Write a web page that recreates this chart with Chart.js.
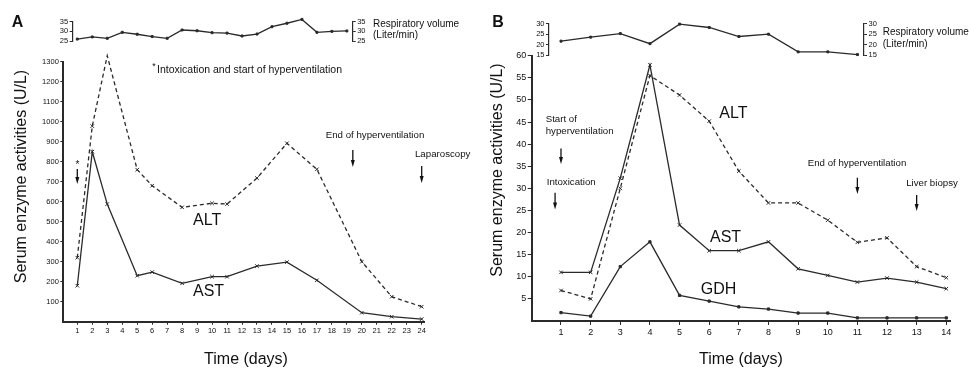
<!DOCTYPE html>
<html>
<head>
<meta charset="utf-8">
<script src="https://cdn.jsdelivr.net/npm/chart.js@4.4.0/dist/chart.umd.min.js"></script>
<style>
body { margin: 0; background: #fff; }
#wrap { position: relative; width: 970px; height: 369px; overflow: hidden; }
.box { position: absolute; top: 0; }
</style>
</head>
<body>
<div id="wrap">
  <div class="box" style="left:0;width:480px;height:62px"><canvas id="respA"></canvas></div>
  <div class="box" style="left:0;width:480px;height:369px"><canvas id="mainA"></canvas></div>
  <div class="box" style="left:480px;width:490px;height:66px"><canvas id="respB"></canvas></div>
  <div class="box" style="left:480px;width:490px;height:369px"><canvas id="mainB"></canvas></div>
</div>
<script>
// panel A
var daysA = [1, 2, 3, 5, 6, 8, 10, 11, 13, 15, 17, 20, 22, 24];
var altA = [320, 978, 1330, 760, 680, 572, 592, 588, 718, 892, 762, 300, 125, 75];
var astA = [180, 850, 588, 230, 248, 192, 225, 225, 278, 298, 207, 45, 25, 13];
var respDaysA = [1, 2, 3, 4, 5, 6, 7, 8, 9, 10, 11, 12, 13, 14, 15, 16, 17, 18, 19];
var respA = [26.0, 27.1, 26.4, 29.5, 28.5, 27.3, 26.4, 30.7, 30.3, 29.3, 29.1, 27.6, 28.6, 32.4, 34.2, 36.2, 29.5, 30.0, 30.2];
var xTicksA = [1, 2, 3, 4, 5, 6, 7, 8, 9, 10, 11, 12, 13, 14, 15, 16, 17, 18, 19, 20, 21, 22, 23, 24];
var yTicksA = [100, 200, 300, 400, 500, 600, 700, 800, 900, 1000, 1100, 1200, 1300];
var respTicksA = [25, 30, 35];

// panel B
var daysB = [1, 2, 3, 4, 5, 6, 7, 8, 9, 10, 11, 12, 13, 14];
var altB = [6.9, 5.0, 30.0, 55.5, 51.1, 45.2, 33.9, 26.7, 26.7, 22.8, 17.8, 18.8, 12.3, 9.8];
var astB = [11.0, 11.0, 32.3, 57.9, 21.7, 15.9, 15.9, 17.9, 11.8, 10.3, 8.8, 9.7, 8.8, 7.3];
var gdhB = [1.9, 1.1, 12.3, 17.9, 5.8, 4.5, 3.2, 2.7, 1.8, 1.8, 0.7, 0.7, 0.7, 0.7];
var respDaysB = [1, 2, 3, 4, 5, 6, 7, 8, 9, 10, 11];
var respB = [21.6, 23.5, 25.2, 20.4, 29.7, 28.1, 23.8, 24.9, 16.5, 16.5, 15.2];
var xTicksB = [1, 2, 3, 4, 5, 6, 7, 8, 9, 10, 11, 12, 13, 14];
var yTicksB = [5, 10, 15, 20, 25, 30, 35, 40, 45, 50, 55, 60];
var respTicksB = [15, 20, 25, 30];

var FONT = '"Liberation Sans", Arial, sans-serif';
var INK = '#2a2a2a';

function pts(xs, ys) {
    return xs.map(function (x, i) { return { x: x, y: ys[i] }; });
}

function lineSet(xs, ys, dashed, style, r) {
    return {
        data: pts(xs, ys),
        borderColor: INK,
        borderWidth: 1.3,
        borderDash: dashed ? [4, 3] : [],
        pointStyle: style || 'crossRot',
        pointRadius: r || 2.5,
        pointBorderWidth: 1,
        pointBackgroundColor: INK,
        pointBorderColor: INK,
        tension: 0,
        clip: false
    };
}

function axis(o) {
    return {
        type: 'linear',
        position: o.position,
        min: o.min,
        max: o.max,
        afterBuildTicks: function (s) {
            s.ticks = o.ticks.map(function (v) { return { value: v }; });
        },
        afterFit: function (s) {
            if (o.w) s.width = o.w;
            if (o.h) s.height = o.h;
        },
        grid: { drawOnChartArea: false, drawTicks: true, tickLength: o.tl || 3, color: INK, lineWidth: 1 },
        border: { display: true, color: INK, width: o.bw || 2 },
        ticks: {
            font: { family: FONT, size: o.fs },
            color: '#111',
            padding: o.pad || 2,
            maxRotation: 0,
            autoSkip: false,
            callback: function (v) { return String(v); }
        }
    };
}

function notesPlugin(notes) {
    return {
        id: 'notes',
        afterDraw: function (chart) {
            var c = chart.ctx, x = chart.scales.x, y = chart.scales.y;
            c.save();
            c.fillStyle = '#111';
            c.strokeStyle = '#111';
            (notes.texts || []).forEach(function (t) {
                c.save();
                c.font = (t.bold ? 'bold ' : '') + t.size + 'px ' + FONT;
                c.textAlign = t.align || 'left';
                c.textBaseline = 'middle';
                c.translate(t.x, t.y);
                if (t.rot) c.rotate(t.rot);
                c.fillText(t.text, 0, 0);
                c.restore();
            });
            (notes.arrows || []).forEach(function (a) {
                var px = x.getPixelForValue(a.day);
                var y1 = y.getPixelForValue(a.from);
                var y2 = y.getPixelForValue(a.to);
                c.lineWidth = 1.3;
                c.beginPath();
                c.moveTo(px, y1);
                c.lineTo(px, y2 - 5);
                c.stroke();
                c.beginPath();
                c.moveTo(px - 2, y2 - 7);
                c.lineTo(px + 2, y2 - 7);
                c.lineTo(px, y2);
                c.closePath();
                c.fill();
            });
            c.restore();
        }
    };
}

function respChart(id, xs, ys, o) {
    return new Chart(document.getElementById(id), {
        type: 'line',
        data: { datasets: [lineSet(xs, ys, false, 'rect', 1.4)] },
        options: {
            animation: false,
            responsive: true,
            maintainAspectRatio: false,
            layout: { padding: o.pad },
            plugins: { legend: { display: false }, tooltip: { enabled: false } },
            scales: {
                x: { type: 'linear', display: false, min: o.xmin, max: o.xmax },
                y: axis({ position: 'left', min: o.ymin, max: o.ymax, ticks: o.ticks, w: o.wl, fs: 7.5, bw: 1.2, pad: 1.5 }),
                y2: axis({ position: 'right', min: o.ymin, max: o.ymax, ticks: o.ticks, w: o.wr, fs: 7.5, bw: 1.2, pad: 1.5 })
            }
        },
        plugins: [notesPlugin({ texts: o.texts })]
    });
}

function mainChart(id, sets, o) {
    return new Chart(document.getElementById(id), {
        type: 'line',
        data: { datasets: sets },
        options: {
            animation: false,
            responsive: true,
            maintainAspectRatio: false,
            layout: { padding: o.pad },
            plugins: { legend: { display: false }, tooltip: { enabled: false } },
            scales: {
                x: axis({ position: 'bottom', min: o.xmin, max: o.xmax, ticks: o.xticks, h: o.h, fs: o.fs, tl: o.tl, pad: 2 }),
                y: axis({ position: 'left', min: 0, max: o.ymax, ticks: o.yticks, w: o.w, fs: o.fs, tl: o.tl, pad: 1.5 })
            }
        },
        plugins: [notesPlugin(o.notes)]
    });
}

var UP = -Math.PI / 2;

respChart('respA', respDaysA, respA, {
    pad: { top: 21.7, bottom: 21, left: 0, right: 0 },
    xmin: 0.693, xmax: 19.39, ymin: 25, ymax: 35, ticks: respTicksA,
    wl: 72.7, wr: 127.3,
    texts: [
        { text: 'Respiratory volume', x: 373, y: 24, size: 10 },
        { text: '(Liter/min)', x: 373, y: 35.5, size: 10 }
    ]
});

mainChart('mainA', [lineSet(daysA, altA, true), lineSet(daysA, astA, false)], {
    pad: { top: 61.7, right: 56, left: 0, bottom: 0 },
    xmin: 0.065, xmax: 24.154, xticks: xTicksA, h: 47.3,
    ymax: 1300, yticks: yTicksA, w: 63.3, fs: 7.5, tl: 3,
    notes: {
        texts: [
            { text: 'A', x: 17.5, y: 23, size: 16, bold: true, align: 'center' },
            { text: '*', x: 77.5, y: 165, size: 10, align: 'center' },
            { text: '*', x: 154, y: 67, size: 9, align: 'center' },
            { text: 'Intoxication and start of hyperventilation', x: 157, y: 70, size: 10.5 },
            { text: 'End of hyperventilation', x: 375, y: 135, size: 9.7, align: 'center' },
            { text: 'Laparoscopy', x: 442.7, y: 154, size: 9.7, align: 'center' },
            { text: 'ALT', x: 193, y: 221, size: 16 },
            { text: 'AST', x: 193, y: 292, size: 16 },
            { text: 'Serum enzyme activities (U/L)', x: 21.5, y: 176.5, size: 16, align: 'center', rot: UP },
            { text: 'Time (days)', x: 246, y: 360, size: 16, align: 'center' }
        ],
        arrows: [
            { day: 1, from: 763, to: 688 },
            { day: 19.4, from: 858, to: 773 },
            { day: 24, from: 778, to: 693 }
        ]
    }
});

respChart('respB', respDaysB, respB, {
    pad: { top: 23.5, bottom: 11, left: 0, right: 0 },
    xmin: 0.595, xmax: 11.22, ymin: 15, ymax: 30, ticks: respTicksB,
    wl: 69, wr: 106,
    texts: [
        { text: 'Respiratory volume', x: 402.7, y: 32.7, size: 10 },
        { text: '(Liter/min)', x: 402.7, y: 44.3, size: 10 }
    ]
});

mainChart('mainB', [lineSet(daysB, altB, true), lineSet(daysB, astB, false), lineSet(daysB, gdhB, false, 'rect', 1.6)], {
    pad: { top: 55.7, right: 20, left: 0, bottom: 0 },
    xmin: 0.0115, xmax: 14.125, xticks: xTicksB, h: 48,
    ymax: 60, yticks: yTicksB, w: 51.7, fs: 9, tl: 4,
    notes: {
        texts: [
            { text: 'B', x: 18, y: 22.7, size: 16, bold: true, align: 'center' },
            { text: 'Start of', x: 65.7, y: 119.3, size: 9.7 },
            { text: 'hyperventilation', x: 65.7, y: 131, size: 9.7 },
            { text: 'Intoxication', x: 66.7, y: 182.3, size: 9.7 },
            { text: 'ALT', x: 239.3, y: 113.3, size: 16 },
            { text: 'AST', x: 230, y: 237.3, size: 16 },
            { text: 'GDH', x: 220.7, y: 290, size: 16 },
            { text: 'End of hyperventilation', x: 377, y: 163.3, size: 9.7, align: 'center' },
            { text: 'Liver biopsy', x: 452, y: 183.3, size: 9.7, align: 'center' },
            { text: 'Serum enzyme activities (U/L)', x: 18, y: 170, size: 16, align: 'center', rot: UP },
            { text: 'Time (days)', x: 261, y: 360, size: 16, align: 'center' }
        ],
        arrows: [
            { day: 1, from: 39, to: 35.5 },
            { day: 0.8, from: 29, to: 25.2 },
            { day: 11, from: 32.4, to: 28.7 },
            { day: 13, from: 28.5, to: 24.9 }
        ]
    }
});
</script>
</body>
</html>
